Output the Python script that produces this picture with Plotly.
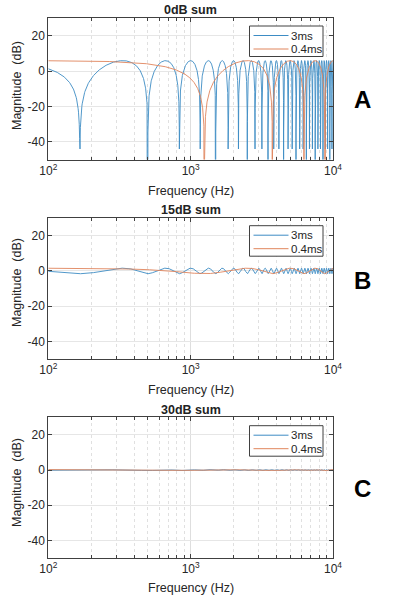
import numpy as np
import plotly.graph_objects as go

# ---- data (parameters) ----
freq_hz = np.arange(100, 10001, 1)          # 1 Hz frequency grid, 10^2 .. 10^4 Hz
delays_ms = [3.0, 0.4]
delay_names = ["3ms", "0.4ms"]
level_diff_db = [0, 15, 30]
panel_titles = ["0dB sum", "15dB sum", "30dB sum"]
panel_letters = ["A", "B", "C"]
x_tickvals = [100, 1000, 10000]
x_ticktext = ["10<sup>2</sup>", "10<sup>3</sup>", "10<sup>4</sup>"]
y_tickvals = [20, 0, -20, -40]
y_ticktext = ["20", "0", "-20", "-40"]

colors = ["#3d8cc4", "#e0855c"]
W, H = 395, 600
TXT = "#262626"
FONT = "Liberation Sans, Arial, sans-serif"

# panel geometry in page pixels (top, bottom)
panels_px = [(18.3, 159.5), (217.7, 359.0), (417.3, 558.0)]
left_px, right_px = 48.3, 333.0
title_y = [9.5, 210.0, 410.0]
xlabel_y = [191.0, 390.0, 588.0]
ylabel_y = [86.0, 283.0, 483.0]
letter_y = [100.0, 281.0, 488.0]
legend_top = [26.0, 225.7, 425.7]
leg_l, leg_r, leg_h = 249.5, 323.0, 30.5

minor_vals = [m * 10 ** e for e in (2, 3) for m in range(2, 10)]

fig = go.Figure()
layout = dict(
    width=W, height=H, margin=dict(l=0, r=0, t=0, b=0, autoexpand=False),
    paper_bgcolor="white", plot_bgcolor="white", showlegend=False,
    font=dict(family=FONT, color=TXT, size=12),
)
annotations = []
shapes = []

def px(x):
    return x / W

def py(y):
    return 1 - y / H

for p in range(3):
    g = 10 ** (-level_diff_db[p] / 20)
    sfx = "" if p == 0 else str(p + 1)
    for d, dname, c in zip(delays_ms, delay_names, colors):
        tau = d / 1000.0
        h = 1 + g * np.exp(-1j * 2 * np.pi * freq_hz * tau)
        mag = 20 * np.log10(np.maximum(np.abs(h), 1e-12))
        fig.add_trace(go.Scatter(
            x=freq_hz, y=mag, mode="lines", name=dname,
            line=dict(color=c, width=0.9), xaxis="x" + sfx, yaxis="y" + sfx,
        ))
    top, bot = panels_px[p]
    layout["xaxis" + sfx] = dict(
        type="log", range=[2, 4], domain=[px(left_px), px(right_px)],
        anchor="y" + sfx, tickvals=x_tickvals, ticktext=x_ticktext,
        ticks="inside", ticklen=4, tickcolor="#404040", automargin=False,
        showline=True, linecolor="#404040", linewidth=1, mirror="ticks",
        showgrid=True, gridcolor="#dedede", gridwidth=1,
        minor=dict(tickvals=minor_vals, ticks="inside", ticklen=3,
                   tickcolor="#404040", showgrid=True, gridcolor="#e0e0e0",
                   griddash="dot", gridwidth=1),
        tickfont=dict(size=12, color=TXT), zeroline=False,
    )
    layout["yaxis" + sfx] = dict(
        range=[-50, 30], domain=[py(bot), py(top)], anchor="x" + sfx,
        tickvals=y_tickvals, ticktext=y_ticktext, automargin=False,
        ticks="inside", ticklen=4, tickcolor="#404040",
        showline=True, linecolor="#404040", linewidth=1, mirror="ticks",
        showgrid=True, gridcolor="#e6e6e6", gridwidth=1, zeroline=False,
        tickfont=dict(size=12, color=TXT),
    )
    # legend box (drawn in paper coordinates)
    lt = legend_top[p]
    shapes.append(dict(type="rect", xref="paper", yref="paper",
                       x0=px(leg_l), x1=px(leg_r), y0=py(lt + leg_h), y1=py(lt),
                       line=dict(color="#404040", width=1), fillcolor="white",
                       layer="above"))
    for i, (dname, c) in enumerate(zip(delay_names, colors)):
        yy = lt + 9.5 + i * 13.5
        shapes.append(dict(type="line", xref="paper", yref="paper",
                           x0=px(253.5), x1=px(288.5), y0=py(yy), y1=py(yy),
                           line=dict(color=c, width=1), layer="above"))
        annotations.append(dict(text=dname, x=px(289), y=py(yy), xref="paper",
                                yref="paper", showarrow=False, xanchor="left",
                                yanchor="middle", font=dict(size=11.5, color=TXT)))
    annotations += [
        dict(text="<b>%s</b>" % panel_titles[p], x=px((left_px + right_px) / 2),
             y=py(title_y[p]), xref="paper", yref="paper", showarrow=False,
             font=dict(size=12.5, color="#222"), xanchor="center", yanchor="middle"),
        dict(text="Frequency (Hz)", x=px((left_px + right_px) / 2),
             y=py(xlabel_y[p]), xref="paper", yref="paper", showarrow=False,
             font=dict(size=12.5, color=TXT), xanchor="center", yanchor="middle"),
        dict(text="Magnitude  (dB)", x=px(17), y=py(ylabel_y[p]), xref="paper",
             yref="paper", showarrow=False, textangle=-90,
             font=dict(size=12.5, color=TXT), xanchor="center", yanchor="middle"),
        dict(text="<b>%s</b>" % panel_letters[p], x=px(362), y=py(letter_y[p]),
             xref="paper", yref="paper", showarrow=False,
             font=dict(size=24, color="black"), xanchor="center", yanchor="middle"),
    ]

layout["annotations"] = annotations
layout["shapes"] = shapes
fig.update_layout(**layout)
fig.write_html(
    "out.html",
    config={"displayModeBar": False},
    post_script="document.body.style.margin='0px';document.body.style.overflow='hidden';",
)
